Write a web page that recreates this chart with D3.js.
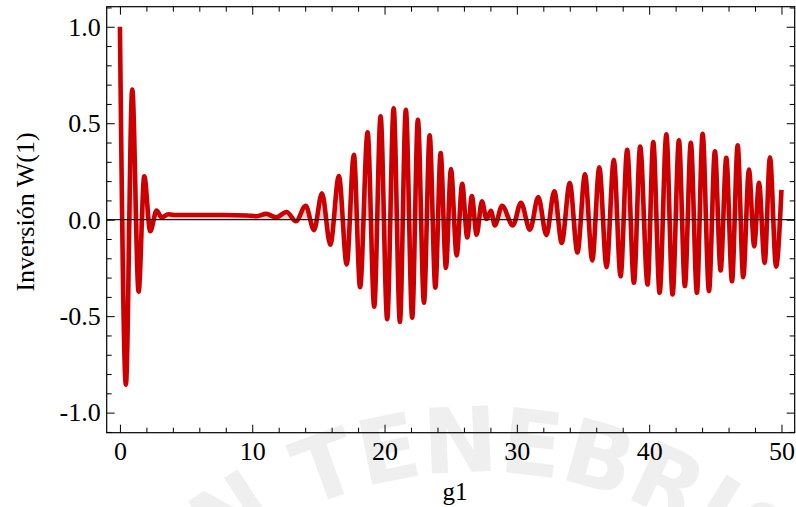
<!DOCTYPE html>
<html>
<head>
<meta charset="utf-8">
<script src="https://cdn.jsdelivr.net/npm/d3@7"></script>
<style>
  html, body { margin: 0; padding: 0; background: #ffffff; }
  svg { display: block; }
</style>
</head>
<body>
<svg id="chart" width="796" height="507"></svg>
<script>
// Atomic inversion W(1) against g1: collapse and revivals.
// Turning points of the curve (g1, W) plus a few points on the flat collapse stretch.
const g1Values = [
  0.00, 0.45, 0.93, 1.41, 1.84, 2.29, 2.77, 3.15, 3.65, 4.30,
  6.00, 8.00, 9.60, 10.30, 11.05, 11.80, 12.60, 13.30, 14.04, 14.67,
  15.27, 15.90, 16.55, 17.14, 17.68, 18.15, 18.72, 19.22, 19.70, 20.20,
  20.69, 21.16, 21.61, 22.09, 22.52, 22.98, 23.41, 23.84, 24.24, 24.64,
  25.02, 25.45, 25.87, 26.25, 26.60, 26.96, 27.36, 27.71, 28.04, 28.34,
  28.88, 29.70, 30.31, 30.99, 31.62, 32.23, 32.83, 33.39, 34.00, 34.58,
  35.15, 35.70, 36.23, 36.78, 37.33, 37.84, 38.34, 38.85, 39.32, 39.88,
  40.31, 40.79, 41.30, 41.77, 42.25, 42.70, 43.15, 43.61, 44.04, 44.52,
  44.97, 45.40, 45.83, 46.26, 46.69, 47.11, 47.54, 47.94, 48.30, 48.73,
  49.13, 49.59, 50.00
];
const inversionValues = [
  1.000, -0.855, 0.675, -0.373, 0.225, -0.060, 0.047, 0.012, 0.028, 0.024,
  0.024, 0.024, 0.022, 0.018, 0.030, 0.012, 0.040, -0.008, 0.072, -0.054,
  0.137, -0.130, 0.226, -0.232, 0.337, -0.350, 0.453, -0.451, 0.536, -0.516,
  0.578, -0.530, 0.570, -0.508, 0.518, -0.430, 0.438, -0.352, 0.345, -0.250,
  0.263, -0.185, 0.186, -0.092, 0.122, -0.078, 0.096, 0.004, 0.046, -0.030,
  0.072, -0.030, 0.088, -0.052, 0.118, -0.080, 0.147, -0.120, 0.190, -0.170,
  0.235, -0.211, 0.272, -0.246, 0.310, -0.293, 0.362, -0.327, 0.379, -0.336,
  0.402, -0.379, 0.442, -0.388, 0.411, -0.344, 0.399, -0.379, 0.445, -0.370,
  0.355, -0.263, 0.321, -0.319, 0.385, -0.298, 0.260, -0.138, 0.191, -0.224,
  0.324, -0.243, 0.155
];

// Tick positions and labels
const xMajorTicks = [0, 10, 20, 30, 40, 50];
const xMajorLabels = ["0", "10", "20", "30", "40", "50"];
const xMinorTicks = d3.range(0, 51, 2).filter(v => v % 10 !== 0);
const yMajorTicks = [-1.0, -0.5, 0.0, 0.5, 1.0];
const yMajorLabels = ["-1.0", "-0.5", "0.0", "0.5", "1.0"];
const yMinorTicks = d3.range(-11, 12).map(v => v / 10).filter(v => Math.abs(v * 2 - Math.round(v * 2)) > 1e-9);

const xTitle = "g1";
const yTitle = "Inversi\u00f3n W(1)";
const sealText = "IN TENEBRIS";

const points = g1Values.map((g, i) => ({ g: g, w: inversionValues[i] }));

const svg = d3.select("#chart");
const frame = { left: 106.7, right: 794.7, top: 6.7, bottom: 432.7 };

const x = d3.scaleLinear().domain([-1, 51]).range([frame.left, frame.right]);
const y = d3.scaleLinear().domain([-1.104, 1.104]).range([frame.bottom, frame.top]);

// Faint seal lettering in the background
const defs = svg.append("defs");
const cx = 478, cy = 892, r = 420;
defs.append("path")
  .attr("id", "sealArc")
  .attr("d", `M ${cx - r},${cy} A ${r},${r} 0 0 1 ${cx + r},${cy}`);
svg.append("text")
  .attr("font-family", "DejaVu Sans, sans-serif")
  .attr("font-weight", "bold")
  .attr("font-size", 90)
  .attr("letter-spacing", -1)
  .attr("fill", "#efefef")
  .append("textPath")
  .attr("href", "#sealArc")
  .attr("startOffset", "50%")
  .attr("text-anchor", "middle")
  .text(sealText);

const plot = svg.append("g");

const curve = d3.curveMonotoneX;

// Filling between the curve and the axis
plot.append("path")
  .datum(points)
  .attr("fill", "#cc0000")
  .attr("fill-opacity", 0.17)
  .attr("stroke", "none")
  .attr("d", d3.area().x(d => x(d.g)).y0(y(0)).y1(d => y(d.w)).curve(curve));

plot.append("path")
  .datum(points)
  .attr("fill", "none")
  .attr("stroke", "#cc0000")
  .attr("stroke-width", 4.6)
  .attr("stroke-linejoin", "round")
  .attr("d", d3.line().x(d => x(d.g)).y(d => y(d.w)).curve(curve));

// Horizontal axis through zero
plot.append("line")
  .attr("x1", frame.left).attr("x2", frame.right)
  .attr("y1", y(0)).attr("y2", y(0))
  .attr("stroke", "#1a1a1a")
  .attr("stroke-width", 1.2);

// Frame with inward ticks on all sides
const serif = "Liberation Serif, Times New Roman, serif";
function styleAxis(g) {
  g.select(".domain").remove();
  g.selectAll(".tick line").attr("stroke", "#000").attr("stroke-width", 1);
  g.selectAll("text").attr("font-family", serif).attr("font-size", 26).attr("fill", "#000");
}
function ticksOnly(g) {
  styleAxis(g);
  g.selectAll("text").remove();
}

svg.append("g").attr("transform", `translate(0,${frame.bottom})`)
  .call(d3.axisBottom(x).tickValues(xMajorTicks).tickSize(-8).tickPadding(9)
    .tickFormat((d, i) => xMajorLabels[i]))
  .call(styleAxis);
svg.append("g").attr("transform", `translate(0,${frame.bottom})`)
  .call(d3.axisBottom(x).tickValues(xMinorTicks).tickSize(-5))
  .call(ticksOnly);
svg.append("g").attr("transform", `translate(0,${frame.top})`)
  .call(d3.axisTop(x).tickValues(xMajorTicks).tickSize(-8))
  .call(ticksOnly);
svg.append("g").attr("transform", `translate(0,${frame.top})`)
  .call(d3.axisTop(x).tickValues(xMinorTicks).tickSize(-5))
  .call(ticksOnly);

svg.append("g").attr("transform", `translate(${frame.left},0)`)
  .call(d3.axisLeft(y).tickValues(yMajorTicks).tickSize(-8).tickPadding(6)
    .tickFormat((d, i) => yMajorLabels[i]))
  .call(styleAxis);
svg.append("g").attr("transform", `translate(${frame.left},0)`)
  .call(d3.axisLeft(y).tickValues(yMinorTicks).tickSize(-5))
  .call(ticksOnly);
svg.append("g").attr("transform", `translate(${frame.right},0)`)
  .call(d3.axisRight(y).tickValues(yMajorTicks).tickSize(-8))
  .call(ticksOnly);
svg.append("g").attr("transform", `translate(${frame.right},0)`)
  .call(d3.axisRight(y).tickValues(yMinorTicks).tickSize(-5))
  .call(ticksOnly);

svg.append("rect")
  .attr("x", frame.left).attr("y", frame.top)
  .attr("width", frame.right - frame.left).attr("height", frame.bottom - frame.top)
  .attr("fill", "none").attr("stroke", "#000").attr("stroke-width", 1.2);

// Axis titles
svg.append("text")
  .attr("x", 455).attr("y", 500)
  .attr("text-anchor", "middle")
  .attr("font-family", serif).attr("font-size", 25)
  .text(xTitle);

svg.append("text")
  .attr("transform", "translate(34,212) rotate(-90)")
  .attr("text-anchor", "middle")
  .attr("font-family", serif).attr("font-size", 26)
  .text(yTitle);
</script>
</body>
</html>
